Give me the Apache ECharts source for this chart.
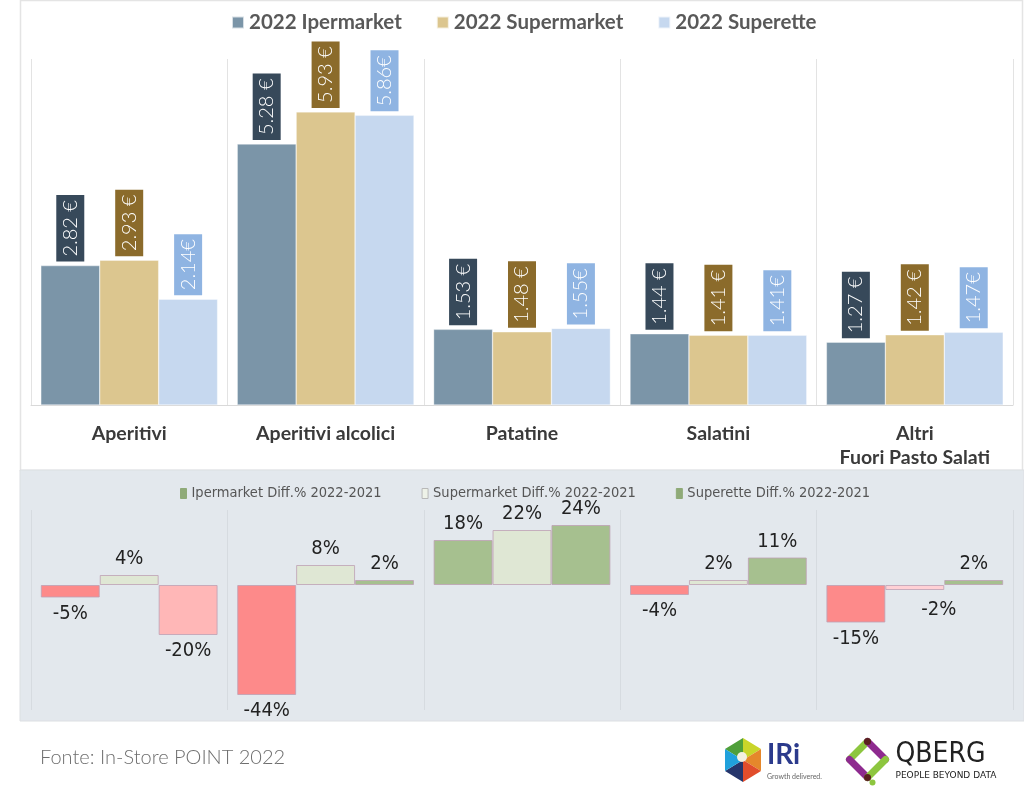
<!DOCTYPE html>
<html>
<head>
<meta charset="utf-8">
<script src="https://cdn.jsdelivr.net/npm/echarts@6/dist/echarts.min.js"></script>
<style>
html,body{margin:0;padding:0;background:#fff;}
#c{width:1024px;height:788px;}
</style>
</head>
<body>
<div id="c"></div>
<script>
// ---- data ----
const categories = ['Aperitivi', 'Aperitivi alcolici', 'Patatine', 'Salatini', 'Altri\nFuori Pasto Salati'];
const priceSeriesNames = ['2022 Ipermarket', '2022 Supermarket', '2022 Superette'];
const iper2022 = [2.82, 5.28, 1.53, 1.44, 1.27];
const super2022 = [2.93, 5.93, 1.48, 1.41, 1.42];
const superette2022 = [2.14, 5.86, 1.55, 1.41, 1.47];
const priceSuffix = [' €', ' €', '€'];
const diffSeriesNames = ['Ipermarket Diff.% 2022-2021', 'Supermarket Diff.% 2022-2021', 'Superette Diff.% 2022-2021'];
const iperDiff = [-5, -44, 18, -4, -15];
const superDiff = [4, 8, 22, 2, -2];
const superetteDiff = [-20, 2, 24, 11, 2];
const sourceText = 'Fonte: In-Store POINT 2022';

// ---- styles ----
const barColors = ['#7b95a8', '#dcc68f', '#c6d8ef'];
const labelBg = ['#37495a', '#8b6b2b', '#8fb4e2'];
const negColors = ['#fd8a8a', '#ffd0d5', '#ffb7b7'];
const posColors = ['#a6c08f', '#dfe7d4', '#a6c08f'];
const legendIcon = ['#8faa78', '#eef2e8', '#8faa78'];
const narrow = '"Liberation Sans Narrow", "DejaVu Sans Condensed", "Roboto Condensed", sans-serif';

const chart = echarts.init(document.getElementById('c'), null, {renderer: 'canvas'});

const priceData = [iper2022, super2022, superette2022];
const diffData = [iperDiff, superDiff, superetteDiff];

const series = [];
priceData.forEach((arr, i) => {
  series.push({
    name: priceSeriesNames[i],
    type: 'bar',
    xAxisIndex: 0, yAxisIndex: 0,
    barGap: '0%',
    barCategoryGap: '10%',
    data: arr,
    itemStyle: {color: barColors[i], borderColor: 'rgba(255,255,255,0.7)', borderWidth: 0.5},
    label: {
      show: true,
      position: 'top',
      distance: 4,
      rotate: 90,
      align: 'left',
      verticalAlign: 'middle',
      formatter: p => p.value.toFixed(2) + priceSuffix[i],
      color: '#fff',
      fontFamily: 'Lato, "Open Sans", sans-serif',
      fontWeight: 300,
      fontSize: 20,
      lineHeight: 20,
      backgroundColor: labelBg[i],
      padding: [4, 5, 4, 5]
    }
  });
});
diffData.forEach((arr, i) => {
  series.push({
    name: diffSeriesNames[i],
    type: 'bar',
    xAxisIndex: 1, yAxisIndex: 1,
    barGap: '0%',
    barCategoryGap: '10%',
    data: arr.map((v, j) => {
      const item = {
        value: v,
        itemStyle: {color: v < 0 ? negColors[i] : posColors[i]},
        label: {position: v < 0 ? 'bottom' : 'top'}
      };
      if (i === 1 && j === 4) item.label.offset = [24, 4];
      return item;
    }),
    itemStyle: {borderColor: 'rgba(190,160,180,0.8)', borderWidth: 1},
    label: {
      show: true,
      distance: 6,
      formatter: p => p.value + '%',
      color: '#222',
      fontFamily: narrow,
      fontSize: 20
    }
  });
});

const option = {
  animation: false,
  backgroundColor: '#ffffff',
  graphic: [
    {type: 'rect', z: -10, shape: {x: 20.5, y: 0.5, width: 1002, height: 470}, style: {fill: '#fff', stroke: '#e4e4e4', lineWidth: 1.5}},
    {type: 'rect', z: -10, shape: {x: 20, y: 470, width: 1004, height: 251}, style: {fill: '#e3e8ed', stroke: '#dcdfe2', lineWidth: 1}},
    {type: 'text', left: 40, top: 748, style: {text: sourceText, fill: '#6e6e6e', font: '300 20px Lato, sans-serif'}},
    // IRi logo
    {type: 'group', left: 725, top: 738, children: [
      {type: 'polygon', shape: {points: [[18, 0], [18, 22], [0, 11]]}, style: {fill: '#4f9f3a'}},
      {type: 'polygon', shape: {points: [[18, 0], [36, 11], [18, 22]]}, style: {fill: '#c9d52a'}},
      {type: 'polygon', shape: {points: [[36, 11], [36, 33], [18, 22]]}, style: {fill: '#e5872b'}},
      {type: 'polygon', shape: {points: [[36, 33], [18, 44], [18, 22]]}, style: {fill: '#e14d2b'}},
      {type: 'polygon', shape: {points: [[18, 44], [0, 33], [18, 22]]}, style: {fill: '#25356b'}},
      {type: 'polygon', shape: {points: [[0, 33], [0, 11], [18, 22]]}, style: {fill: '#20a1dc'}},
      {type: 'circle', shape: {cx: 17, cy: 19, r: 5}, style: {fill: '#f4f0e0'}},
      {type: 'text', x: 42, y: 3, style: {text: 'IRi', fill: '#2b3a8c', font: 'bold 28px Lato, sans-serif'}},
      {type: 'text', x: 42, y: 35, style: {text: 'Growth delivered.', fill: '#666', font: '7px Lato, sans-serif'}}
    ]},
    // QBERG logo
    {type: 'group', left: 846, top: 738, children: [
      {type: 'line', shape: {x1: 22, y1: 4, x2: 4, y2: 22}, style: {stroke: '#8dc63f', lineWidth: 7, lineCap: 'round'}},
      {type: 'line', shape: {x1: 22, y1: 4, x2: 40, y2: 22}, style: {stroke: '#8e2a8f', lineWidth: 7, lineCap: 'round'}},
      {type: 'line', shape: {x1: 4, y1: 22, x2: 22, y2: 40}, style: {stroke: '#8e2a8f', lineWidth: 7, lineCap: 'round'}},
      {type: 'line', shape: {x1: 40, y1: 22, x2: 22, y2: 40}, style: {stroke: '#8dc63f', lineWidth: 7, lineCap: 'round'}},
      {type: 'circle', shape: {cx: 22, cy: 4, r: 3.5}, style: {fill: '#5a1f1f'}},
      {type: 'circle', shape: {cx: 22, cy: 40, r: 3.5}, style: {fill: '#5a1f1f'}},
      {type: 'circle', shape: {cx: 27, cy: 45, r: 3}, style: {fill: '#8dc63f'}},
      {type: 'text', x: 50, y: 3, style: {text: 'QBERG', fill: '#222', font: '28px "DejaVu Sans Condensed", sans-serif'}},
      {type: 'text', x: 50, y: 34, style: {text: 'PEOPLE BEYOND DATA', fill: '#222', font: '9px "DejaVu Sans", sans-serif'}}
    ]}
  ],
  legend: [
    {
      data: priceSeriesNames,
      left: 226,
      top: 7,
      itemWidth: 12,
      itemHeight: 12,
      itemGap: 34,
      icon: 'rect',
      textStyle: {color: '#595959', fontFamily: 'Lato, sans-serif', fontWeight: 'bold', fontSize: 20.5}
    },
    {
      data: diffSeriesNames.map((n, i) => ({name: n, itemStyle: {color: legendIcon[i], borderColor: i === 1 ? '#b8b8b8' : legendIcon[i], borderWidth: 1}})),
      left: 175,
      top: 481,
      itemWidth: 6,
      itemHeight: 10,
      itemGap: 40,
      icon: 'rect',
      textStyle: {color: '#555', fontFamily: narrow, fontSize: 14.5}
    }
  ],
  grid: [
    {left: 31, right: 11, top: 59, height: 346},
    {left: 31, right: 11, top: 510, height: 200}
  ],
  xAxis: [
    {
      type: 'category', gridIndex: 0, data: categories,
      axisTick: {show: false},
      axisLine: {lineStyle: {color: '#d9d9d9'}},
      splitLine: {show: true, interval: 0, lineStyle: {color: '#e3e3e3', width: 1}},
      axisLabel: {interval: 0, margin: 17, color: '#3a3a3a', fontFamily: 'Lato, sans-serif', fontWeight: 'bold', fontSize: 19.5, lineHeight: 24}
    },
    {
      type: 'category', gridIndex: 1, data: categories,
      axisTick: {show: false},
      axisLine: {show: false},
      axisLabel: {show: false},
      splitLine: {show: true, interval: 0, lineStyle: {color: '#d6dbe0', width: 1}}
    }
  ],
  yAxis: [
    {type: 'value', gridIndex: 0, min: 0, max: 7, show: false},
    {type: 'value', gridIndex: 1, min: -50, max: 30, show: false}
  ],
  series: series
};

chart.setOption(option);
</script>
</body>
</html>
